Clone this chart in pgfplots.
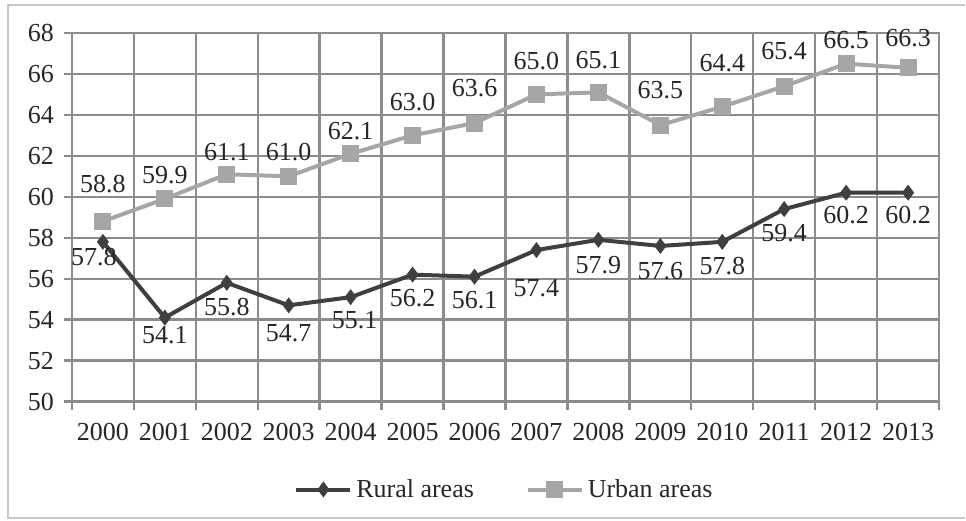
\documentclass[border=0pt]{standalone}
\usepackage{pgfplots}
\usepackage{pgfplotstable}
\pgfplotsset{compat=1.18}
\usepackage{fontspec}
\setmainfont{Liberation Serif}

\definecolor{ruralc}{HTML}{3F3F3F}
\definecolor{urbanc}{HTML}{A6A6A6}
\definecolor{gridc}{HTML}{8C8C8C}
\definecolor{framec}{HTML}{C8C8C8}
\definecolor{textc}{HTML}{262626}

% year index, value, label offsets (pt)
\pgfplotstableread{
x y dx dy
0 57.8 -4.5 -7.5
1 54.1 0 -8.5
2 55.8 0 -12
3 54.7 0 -14
4 55.1 2 -11.5
5 56.2 0 -11.5
6 56.1 0 -11.5
7 57.4 0 -19
8 57.9 0 -12.5
9 57.6 0 -12.5
10 57.8 0 -12
11 59.4 0 -12
12 60.2 0 -11
13 60.2 0 -11
}\rural

\pgfplotstableread{
x y dx dy
0 58.8 0 18.5
1 59.9 0 12
2 61.1 0 11
3 61.0 0 12
4 62.1 0 11.5
5 63.0 0 16.5
6 63.6 0 17.5
7 65.0 0 16.5
8 65.1 0 16
9 63.5 0 17.5
10 64.4 0 22
11 65.4 0 17.5
12 66.5 0 12
13 66.3 0 15
}\urban

\begin{document}
\begin{tikzpicture}[font=\fontsize{13}{15.5}\selectfont, text=textc]
% page extent and outer frame
\path (-36pt,-59.5pt) rectangle (447pt,201pt);
\draw[framec, line width=1pt] (447pt,198.5pt) -- (-32pt,198.5pt) -- (-32pt,-58.5pt) -- (447pt,-58.5pt);
\begin{axis}[
  at={(0,0)}, anchor=south west,
  scale only axis,
  width=434pt, height=184.5pt,
  xmin=-0.5, xmax=13.5,
  ymin=50, ymax=68,
  ytick={50,52,...,68},
  xtick={-0.5,0.5,...,13.5},
  xticklabels={},
  extra x ticks={0,1,...,13},
  extra x tick labels={2000,2001,2002,2003,2004,2005,2006,2007,2008,2009,2010,2011,2012,2013},
  extra x tick style={grid=none, major tick length=0pt},
  xmajorgrids, ymajorgrids,
  grid style={gridc, line width=1.2pt},
  axis line style={gridc, line width=1.2pt},
  tick style={gridc, line width=1.2pt},
  tick align=outside,
  major tick length=4pt,
  xtick pos=bottom, ytick pos=left,
  /pgf/number format/assume math mode=true,
  /pgf/number format/.cd, fixed, precision=1, fixed zerofill,
  /pgfplots/.cd,
  yticklabel={\pgfmathprintnumber[fixed, precision=0]{\tick}},
  x tick label style={yshift=-7.5pt},
  y tick label style={xshift=-1.5pt},
  nodes near coords,
  visualization depends on={\thisrow{dx} \as \dx},
  visualization depends on={\thisrow{dy} \as \dy},
  every node near coord/.append style={font=\fontsize{13}{15.5}\selectfont, text=textc,
    anchor=center, xshift=\dx pt, yshift=\dy pt},
  legend style={at={(rel axis cs:0.5,0)}, yshift=-44pt, anchor=center, draw=none, fill=none,
    legend columns=2, /tikz/every even column/.append style={column sep=24pt},
    font=\fontsize{13}{15.5}\selectfont},
  legend image code/.code={
    \draw[mark repeat=2, mark phase=2, #1] plot coordinates {(0pt,0pt) (13.5pt,0pt) (27pt,0pt)};
  },
]
\addplot[ruralc, line width=2pt, mark=diamond*, mark size=3.6pt,
  mark options={solid, fill=ruralc, line width=0.5pt}]
  table[x=x, y=y] {\rural};
\addlegendentry{Rural areas}
\addplot[urbanc, line width=2pt, mark=square*, mark size=4pt,
  mark options={solid, fill=urbanc, line width=0.5pt}]
  table[x=x, y=y] {\urban};
\addlegendentry{Urban areas}
\end{axis}
\end{tikzpicture}
\end{document}
